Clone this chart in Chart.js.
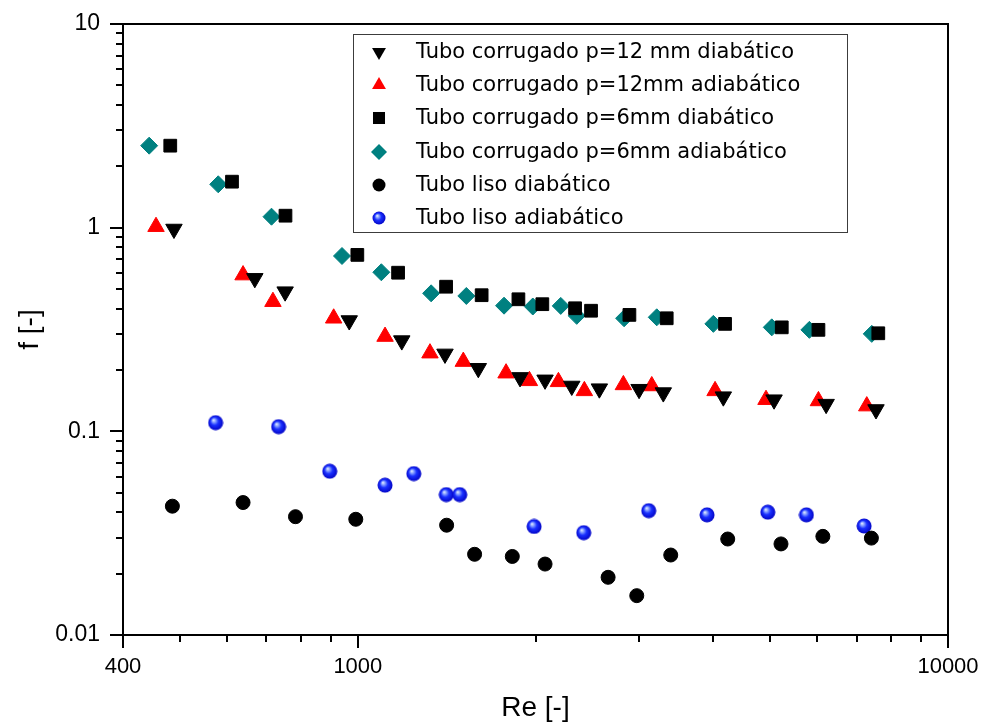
<!DOCTYPE html>
<html>
<head>
<meta charset="utf-8">
<script src="https://cdn.jsdelivr.net/npm/chart.js@4.4.0/dist/chart.umd.min.js"></script>
<style>
  html, body { margin: 0; padding: 0; background: #fff; }
  #wrap { width: 982px; height: 725px; position: relative; }
</style>
</head>
<body>
<div id="wrap"><canvas id="frictionChart"></canvas></div>
<script>
// fator de atrito f x Re (tubos corrugados e tubo liso)
const seriesNames = [
  'Tubo corrugado p=12 mm diabático',
  'Tubo corrugado p=12mm adiabático',
  'Tubo corrugado p=6mm diabático',
  'Tubo corrugado p=6mm adiabático',
  'Tubo liso diabático',
  'Tubo liso adiabático'
];

// p=12 mm diabático
const reC12Dia = [488, 669, 753, 967, 1187, 1405, 1600, 1883, 2076, 2304, 2566, 2996, 3293, 4162, 5073, 6216, 7551];
const fC12Dia = [0.985, 0.564, 0.485, 0.350, 0.279, 0.240, 0.204, 0.184, 0.179, 0.167, 0.162, 0.161, 0.155, 0.148, 0.143, 0.136, 0.128];

// p=12mm adiabático
const reC12Adi = [455, 639, 718, 910, 1112, 1325, 1509, 1783, 1953, 2187, 2420, 2818, 3148, 4030, 4916, 6032, 7284];
const fC12Adi = [1.011, 0.585, 0.433, 0.359, 0.292, 0.242, 0.220, 0.193, 0.177, 0.175, 0.158, 0.169, 0.167, 0.158, 0.143, 0.141, 0.133];

// p=6mm diabático
const reC6Dia = [481, 612, 754, 998, 1170, 1411, 1621, 1871, 2054, 2334, 2484, 2885, 3337, 4190, 5228, 6032, 7619];
const fC6Dia = [2.527, 1.682, 1.145, 0.735, 0.601, 0.513, 0.466, 0.445, 0.421, 0.402, 0.391, 0.373, 0.359, 0.337, 0.324, 0.315, 0.303];

// p=6mm adiabático
const reC6Adi = [443, 580, 714, 940, 1096, 1331, 1527, 1769, 1979, 2207, 2349, 2826, 3210, 4003, 5028, 5823, 7427];
const fC6Adi = [2.527, 1.633, 1.132, 0.726, 0.604, 0.476, 0.462, 0.414, 0.410, 0.413, 0.369, 0.359, 0.363, 0.337, 0.324, 0.315, 0.301];

// tubo liso diabático
const reLisoDia = [485, 639, 784, 992, 1414, 1577, 1827, 2076, 2655, 2969, 3390, 4234, 5212, 6137, 7416];
const fLisoDia = [0.0429, 0.0447, 0.0381, 0.0370, 0.0346, 0.0249, 0.0243, 0.0223, 0.0192, 0.0156, 0.0247, 0.0296, 0.0280, 0.0305, 0.0299];

// tubo liso adiabático
const reLisoAdi = [574, 734, 896, 1112, 1244, 1412, 1488, 1989, 2414, 3111, 3906, 4950, 5756, 7209];
const fLisoAdi = [0.1103, 0.1054, 0.0637, 0.0544, 0.0620, 0.0489, 0.0489, 0.0341, 0.0318, 0.0408, 0.0389, 0.0401, 0.0389, 0.0343];

// eixos
const xTickLabels = [400, 1000, 10000];
const xMinorTicks = [500, 600, 700, 800, 900, 2000, 3000, 4000, 5000, 6000, 7000, 8000, 9000];
const yTickLabels = [0.01, 0.1, 1, 10];
const yMinorTicks = [0.02, 0.03, 0.04, 0.05, 0.06, 0.07, 0.08, 0.09, 0.2, 0.3, 0.4, 0.5, 0.6, 0.7, 0.8, 0.9, 2, 3, 4, 5, 6, 7, 8, 9];

function pts(xs, ys) {
  return xs.map((v, i) => ({ x: v, y: ys[i] }));
}

// bolinha azul com brilho
function makeSphere(d) {
  const c = document.createElement('canvas');
  c.width = d; c.height = d;
  const g = c.getContext('2d');
  const r = d / 2;
  const grad = g.createRadialGradient(r * 0.72, r * 0.66, 0, r, r, r);
  grad.addColorStop(0, '#f2f6ff');
  grad.addColorStop(0.22, '#8aa4ff');
  grad.addColorStop(0.5, '#1a30ff');
  grad.addColorStop(1, '#0000c0');
  g.fillStyle = grad;
  g.beginPath();
  g.arc(r, r, r - 0.5, 0, Math.PI * 2);
  g.fill();
  return c;
}
const sphere = makeSphere(16);
const sphereSmall = makeSphere(14);

const styles = [
  { style: 'triangle', rot: 180, r: 9.5, color: '#000000' },
  { style: 'triangle', rot: 0, r: 9.5, color: '#ff0000' },
  { style: 'rect', rot: 0, r: 9, color: '#000000' },
  { style: 'rectRot', rot: 0, r: 8.5, color: '#008080' },
  { style: 'circle', rot: 0, r: 7, color: '#000000' },
  { style: sphere, rot: 0, r: 8, color: '#0000ff' }
];

const allData = [
  pts(reC12Dia, fC12Dia),
  pts(reC12Adi, fC12Adi),
  pts(reC6Dia, fC6Dia),
  pts(reC6Adi, fC6Adi),
  pts(reLisoDia, fLisoDia),
  pts(reLisoAdi, fLisoAdi)
];

function drawMarker(ctx, s, x, y, r) {
  ctx.fillStyle = s.color;
  ctx.beginPath();
  if (s.style === 'triangle') {
    const k = s.rot === 180 ? -1 : 1;
    ctx.moveTo(x, y - k * r);
    ctx.lineTo(x + r * 0.866, y + k * r / 2);
    ctx.lineTo(x - r * 0.866, y + k * r / 2);
    ctx.closePath();
    ctx.fill();
  } else if (s.style === 'rect') {
    const h = r * 0.707;
    ctx.fillRect(x - h, y - h, 2 * h, 2 * h);
  } else if (s.style === 'rectRot') {
    ctx.moveTo(x - r, y); ctx.lineTo(x, y - r); ctx.lineTo(x + r, y); ctx.lineTo(x, y + r);
    ctx.closePath();
    ctx.fill();
  } else if (s.style === 'circle') {
    ctx.arc(x, y, r, 0, Math.PI * 2);
    ctx.fill();
  } else {
    ctx.drawImage(sphereSmall, x - 7, y - 7);
  }
}

// legenda dentro do grafico
const legendBox = {
  id: 'legendBox',
  afterDraw(chart) {
    const ctx = chart.ctx;
    ctx.save();
    ctx.fillStyle = '#fff';
    ctx.fillRect(353, 34, 494, 198);
    ctx.strokeStyle = '#3c3c3c';
    ctx.lineWidth = 1;
    ctx.strokeRect(353.5, 34.5, 494, 198);
    const rowY = [52, 85, 118, 152, 185, 218];
    const legR = [8, 8, 8.5, 8, 6.5, 7];
    seriesNames.forEach((name, i) => {
      drawMarker(ctx, styles[i], 379, rowY[i], legR[i]);
      ctx.fillStyle = '#000';
      ctx.font = '21px "DejaVu Sans", Verdana, sans-serif';
      ctx.textBaseline = 'middle';
      ctx.textAlign = 'left';
      ctx.fillText(name, 416, rowY[i] + 1);
    });
    ctx.restore();
  }
};

// moldura e tracos dos eixos
const originAxes = {
  id: 'originAxes',
  afterDraw(chart) {
    const { ctx, chartArea: a, scales: { x, y } } = chart;
    ctx.save();
    ctx.strokeStyle = '#000';
    ctx.lineWidth = 2;
    ctx.strokeRect(a.left, a.top, a.right - a.left, a.bottom - a.top);
    ctx.beginPath();
    xTickLabels.forEach(v => {
      const px = Math.round(x.getPixelForValue(v));
      ctx.moveTo(px, a.bottom); ctx.lineTo(px, a.bottom + 13);
    });
    xMinorTicks.forEach(v => {
      const px = Math.round(x.getPixelForValue(v));
      ctx.moveTo(px, a.bottom); ctx.lineTo(px, a.bottom + 7);
    });
    yTickLabels.forEach(v => {
      const py = Math.round(y.getPixelForValue(v));
      ctx.moveTo(a.left, py); ctx.lineTo(a.left - 13, py);
    });
    yMinorTicks.forEach(v => {
      const py = Math.round(y.getPixelForValue(v));
      ctx.moveTo(a.left, py); ctx.lineTo(a.left - 7, py);
    });
    ctx.stroke();
    ctx.restore();
  }
};

function noPad(s) {
  s.paddingTop = 0; s.paddingBottom = 0; s.paddingLeft = 0; s.paddingRight = 0;
}

const ctx = document.getElementById('frictionChart').getContext('2d');
new Chart(ctx, {
  type: 'scatter',
  data: {
    datasets: seriesNames.map((name, i) => ({
      label: name,
      data: allData[i],
      pointStyle: styles[i].style,
      pointRotation: styles[i].rot,
      pointRadius: styles[i].r,
      pointHoverRadius: styles[i].r,
      pointBackgroundColor: styles[i].color,
      pointBorderColor: styles[i].color,
      pointBorderWidth: typeof styles[i].style === 'string' ? 1 : 0,
      showLine: false
    }))
  },
  options: {
    responsive: true,
    maintainAspectRatio: false,
    animation: false,
    events: [],
    layout: { padding: { top: 24, right: 34, bottom: 0, left: 0 } },
    plugins: {
      legend: { display: false },
      tooltip: { enabled: false }
    },
    scales: {
      x: {
        type: 'logarithmic',
        min: 400,
        max: 10000,
        afterFit: s => { s.height = 90; noPad(s); },
        afterBuildTicks: s => { s.ticks = xTickLabels.map(v => ({ value: v })); },
        grid: { display: false, drawTicks: false },
        border: { display: false },
        ticks: {
          autoSkip: false,
          maxRotation: 0,
          padding: 19,
          color: '#000',
          font: { family: '"Liberation Sans", Arial, sans-serif', size: 22 },
          callback: v => String(v)
        },
        title: {
          display: true,
          text: 'Re [-]',
          color: '#000',
          padding: { top: 0, bottom: 0 },
          font: { family: '"Liberation Sans", Arial, sans-serif', size: 28 }
        }
      },
      y: {
        type: 'logarithmic',
        min: 0.01,
        max: 10,
        afterFit: s => { s.width = 123; noPad(s); },
        afterBuildTicks: s => { s.ticks = yTickLabels.map(v => ({ value: v })); },
        grid: { display: false, drawTicks: false },
        border: { display: false },
        ticks: {
          autoSkip: false,
          padding: 23,
          color: '#000',
          font: { family: '"Liberation Sans", Arial, sans-serif', size: 23 },
          callback: v => String(v)
        },
        title: {
          display: true,
          text: 'f [-]',
          color: '#000',
          padding: { top: 13, bottom: 0 },
          font: { family: '"Liberation Sans", Arial, sans-serif', size: 28 }
        }
      }
    }
  },
  plugins: [originAxes, legendBox]
});
</script>
</body>
</html>
